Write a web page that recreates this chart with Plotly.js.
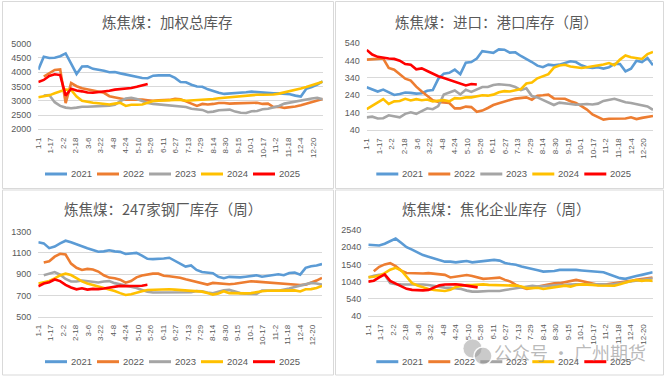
<!DOCTYPE html>
<html>
<head>
<meta charset="utf-8">
<script src="https://cdn.plot.ly/plotly-3.0.1.min.js"></script>
<style>
html,body{margin:0;padding:0;background:#fff;}
#chart{width:666px;height:378px;}
</style>
</head>
<body>
<div id="chart"></div>
<script>
// ---------- data ----------
const years = ['2021', '2022', '2023', '2024', '2025'];
const colors = ['#5B9BD5', '#ED7D31', '#A5A5A5', '#FFC000', '#FF0000'];
const tickLabels = ['1-1','1-17','2-2','2-18','3-6','3-22','4-8','4-24','5-10','5-26','6-11','6-27','7-13','7-29','8-14','8-30','9-15','10-1','10-17','11-2','11-18','12-4','12-20'];
const titles = ['炼焦煤：加权总库存', '炼焦煤：进口：港口库存（周）', '炼焦煤：247家钢厂库存（周）', '炼焦煤：焦化企业库存（周）'];

// 炼焦煤：加权总库存
const total2021 = [4090,4540,4500,4510,4560,4660,4300,3940,4200,4210,4120,4090,4050,4000,4010,3960,3920,3880,3840,3800,3790,3880,3890,3890,3890,3800,3660,3650,3560,3500,3490,3400,3330,3280,3240,3250,3260,3270,3300,3320,3300,3280,3270,3260,3260,3240,3230,3180,3150,3420,3480,3570,3680];
const total2022 = [null,3850,3970,4080,4100,2920,3620,3510,3440,3400,3360,3330,3280,3160,3130,3080,3040,3040,3060,3040,3020,3000,3020,3030,3030,3070,3050,2980,2900,2820,2890,2870,2890,2920,2920,2900,2910,2920,2910,2930,2930,2890,2900,2780,2790,2750,2770,2800,2840,2890,2950,3000,3060];
const total2023 = [null,3180,3200,2950,2820,2760,2740,2760,2790,2790,2800,2800,2810,2830,2860,2990,3080,3100,3060,2990,2920,2890,2870,2850,2820,2810,2800,2780,2720,2690,2680,2600,2620,2670,2690,2690,2620,2580,2570,2630,2640,2700,2720,2770,2820,2900,2940,2960,3000,3040,3080,3100,3050];
const total2024 = [3120,3150,3190,3260,3330,3390,3380,3150,3000,2960,2930,2910,2880,2870,2900,2930,2820,2860,2860,2870,2930,2990,3000,3000,3020,3030,3030,3000,3010,3030,3040,3040,3060,3090,3110,3120,3140,3160,3180,3210,3210,3210,3210,3220,3250,3290,3340,3380,3430,3480,3540,3600,3670];
const total2025 = [3660,3730,3870,3930,3900,3180,3420,3360,3330,3290,3280,3300,3320,3350,3390,3410,3420,3450,3490,3530,3590];

// 炼焦煤：进口：港口库存（周）
const port2021 = [286,275,262,273,256,242,248,256,254,250,252,266,270,335,365,370,388,362,428,432,452,495,490,485,505,503,486,488,467,450,432,411,402,417,413,417,425,436,432,413,402,398,402,394,402,421,421,378,394,440,432,455,413];
const port2022 = [446,446,450,452,398,388,363,336,325,290,262,236,212,202,200,196,165,165,175,172,145,152,167,184,194,205,213,221,226,228,215,238,240,244,222,220,220,206,196,178,158,130,114,100,105,105,103,106,113,103,110,116,121];
const port2023 = [113,117,106,108,125,120,113,133,142,133,150,165,160,178,245,258,268,245,272,260,275,288,288,300,304,300,298,288,270,280,236,228,214,198,184,198,196,190,186,190,190,187,192,208,214,220,210,200,196,188,182,176,156];
const port2024 = [160,180,200,218,190,205,207,220,210,218,212,216,205,210,212,205,224,222,228,228,234,240,238,244,258,264,262,270,276,308,314,338,352,362,400,412,416,406,402,398,402,406,412,418,426,414,446,470,460,456,450,478,490];
const port2025 = [502,475,462,456,452,450,440,420,416,390,395,380,365,350,340,330,320,308,297,305,302];

// 炼焦煤：247家钢厂库存（周）
const mill2021 = [1200,1190,1145,1160,1190,1215,1200,1180,1165,1145,1128,1112,1115,1125,1115,1110,1090,1095,1100,1075,1045,1042,1042,1048,1055,1025,995,972,982,940,920,912,910,875,862,875,872,870,876,884,890,876,884,890,900,890,912,915,896,960,975,982,995];
const mill2022 = [null,1010,1022,1065,1092,1085,1000,960,940,950,945,925,890,868,862,848,820,835,870,888,900,905,905,886,880,876,866,852,838,826,812,802,818,812,808,806,810,820,830,834,830,826,822,818,810,804,800,800,798,802,818,840,865];
const mill2023 = [null,890,905,920,895,855,832,832,840,836,832,822,832,835,816,805,792,780,770,752,735,728,728,730,730,730,732,730,730,742,740,728,720,735,748,752,738,722,716,714,715,745,742,745,745,752,766,780,795,808,818,812,802];
const mill2024 = [812,822,836,860,890,905,892,862,832,812,798,785,772,758,742,722,705,712,728,740,752,755,755,758,758,755,750,748,745,742,736,722,708,718,740,722,720,720,720,722,734,740,744,745,750,752,750,748,738,758,760,770,790];
const mill2025 = [785,812,825,850,835,800,775,758,768,755,762,760,765,775,782,790,788,790,785,792,800];

// 炼焦煤：焦化企业库存（周）
const coke2021 = [2110,2090,2090,2140,2220,2290,2170,2040,1970,1880,1810,1760,1710,1650,1620,1620,1600,1620,1640,1600,1620,1620,1640,1670,1650,1580,1550,1530,1480,1450,1410,1370,1330,1330,1350,1380,1380,1400,1380,1365,1350,1335,1330,1310,1255,1190,1140,1120,1150,1200,1235,1265,1310];
const coke2022 = [null,1340,1470,1540,1575,1490,1360,1290,1280,1270,1275,1285,1268,1255,1235,1160,1185,1215,1230,1205,1160,1120,1130,1140,1155,1090,1040,945,875,830,860,900,940,965,990,995,1020,1060,1090,1060,1025,990,945,945,965,995,1020,1040,1060,1090,1115,1140,1160];
const coke2023 = [1160,1210,1235,1240,1000,965,960,962,945,960,955,940,912,894,866,862,845,825,778,748,748,765,768,766,768,796,825,846,864,890,920,895,910,914,940,942,944,962,962,960,962,965,980,962,945,962,990,1020,1040,1060,1090,1115,1135];
const coke2024 = [1170,1180,1215,1285,1385,1440,1370,1190,995,925,865,825,795,790,766,800,880,915,940,940,960,960,945,940,942,925,940,924,895,850,850,862,825,845,862,892,922,895,942,960,960,945,925,922,920,920,962,1020,1058,1088,1062,1080,1060];
const coke2025 = [1040,1065,1160,1250,1060,990,900,830,800,790,785,800,860,930,955,962,962,945,922,895,872];

const seriesSets = [
  [total2021, total2022, total2023, total2024, total2025],
  [port2021, port2022, port2023, port2024, port2025],
  [mill2021, mill2022, mill2023, mill2024, mill2025],
  [coke2021, coke2022, coke2023, coke2024, coke2025]
];

// ---------- layout geometry ----------
const W = 666, H = 378;
const px = v => v / W;
const py = v => 1 - v / H;

const tickVals = tickLabels.map((_, k) => k * 16 / 7);

const panels = [
  {xd: [38.3, 322.7], yd: [129.3, 43.7], range: [2000, 5000], dtick: 500, tick0: 2000,
   title: [168, 21.7], legend: [45, 174], box: [2.5, 333.5, 1.5, 188.5]},
  {xd: [366.7, 653], yd: [130, 43.3], range: [40, 540], dtick: 100, tick0: 40,
   title: [496, 22], legend: [376.3, 174], box: [335.5, 663.5, 1.5, 188.5]},
  {xd: [38.3, 322], yd: [316.7, 231.7], range: [500, 1300], dtick: 200, tick0: 500,
   title: [163, 208], legend: [45, 361.7], box: [2.5, 333.5, 190, 375]},
  {xd: [368.3, 652.7], yd: [316, 230], range: [40, 2540], dtick: 500, tick0: 40,
   title: [496, 208], legend: [376.3, 361.7], box: [335.5, 663.5, 190, 375]}
];

const tickFont = {family: 'Liberation Sans, Arial, sans-serif', size: 9, color: '#595959'};
const legendFont = {family: 'Liberation Sans, Arial, sans-serif', size: 9.5, color: '#595959'};
const legendStep = 52, legendLine = 22, legendTextGap = 1.5;

const traces = [];
const layout = {
  width: W, height: H,
  margin: {l: 0, r: 0, t: 0, b: 0},
  paper_bgcolor: '#ffffff',
  plot_bgcolor: '#ffffff',
  showlegend: false,
  annotations: [],
  shapes: []
};

panels.forEach((p, pi) => {
  const n = pi + 1;
  const xa = n === 1 ? 'x' : 'x' + n;
  const ya = n === 1 ? 'y' : 'y' + n;

  seriesSets[pi].forEach((vals, si) => {
    traces.push({
      type: 'scatter', mode: 'lines',
      x: vals.map((_, i) => i),
      y: vals,
      name: years[si],
      line: {color: colors[si], width: 2.6},
      xaxis: xa, yaxis: ya,
      connectgaps: false,
      showlegend: false
    });
    // legend key (line + label)
    const lx = p.legend[0] + si * legendStep;
    layout.shapes.push({
      type: 'line', xref: 'paper', yref: 'paper',
      x0: px(lx), x1: px(lx + legendLine), y0: py(p.legend[1]), y1: py(p.legend[1]),
      line: {color: colors[si], width: 3}
    });
    layout.annotations.push({
      xref: 'paper', yref: 'paper',
      x: px(lx + legendLine + legendTextGap), y: py(p.legend[1]),
      xanchor: 'left', yanchor: 'middle', showarrow: false,
      text: years[si], font: legendFont
    });
  });

  layout['xaxis' + (n === 1 ? '' : n)] = {
    domain: [px(p.xd[0]), px(p.xd[1])],
    anchor: ya,
    range: [0, 52],
    tickmode: 'array', tickvals: tickVals, ticktext: tickLabels,
    tickangle: -90,
    tickfont: {family: 'Liberation Sans, Arial, sans-serif', size: 8, color: '#595959'},
    showgrid: false, zeroline: false,
    showline: true, linecolor: '#D9D9D9', linewidth: 1,
    ticks: '', ticklabelstandoff: 4,
    fixedrange: true
  };
  layout['yaxis' + (n === 1 ? '' : n)] = {
    domain: [py(p.yd[0]), py(p.yd[1])],
    anchor: xa,
    range: p.range,
    tick0: p.tick0, dtick: p.dtick,
    tickfont: tickFont,
    showgrid: true, gridcolor: '#D9D9D9', gridwidth: 1,
    zeroline: false, showline: false, ticks: '',
    ticklabelstandoff: 6,
    fixedrange: true
  };
  layout.annotations.push({
    xref: 'paper', yref: 'paper',
    x: px(p.title[0]), y: py(p.title[1]),
    xanchor: 'center', yanchor: 'middle',
    text: titles[pi], showarrow: false,
    font: {family: 'Noto Sans CJK SC, sans-serif', size: 14.5, color: '#595959'}
  });
  layout.shapes.push({
    type: 'rect', xref: 'paper', yref: 'paper',
    x0: px(p.box[0]), x1: px(p.box[1]), y0: py(p.box[3]), y1: py(p.box[2]),
    line: {color: '#D9D9D9', width: 1}, fillcolor: 'rgba(0,0,0,0)', layer: 'below'
  });
});

// watermark
layout.shapes.push({
  type: 'circle', xref: 'paper', yref: 'paper',
  x0: px(463), x1: px(482), y0: py(358), y1: py(339),
  fillcolor: 'rgba(150,150,150,0.5)', line: {color: 'rgba(255,255,255,0.8)', width: 1}
});
layout.shapes.push({
  type: 'circle', xref: 'paper', yref: 'paper',
  x0: px(474), x1: px(492), y0: py(365), y1: py(347),
  fillcolor: 'rgba(150,150,150,0.5)', line: {color: 'rgba(255,255,255,0.9)', width: 1.5}
});
layout.annotations.push({
  xref: 'paper', yref: 'paper', x: px(570), y: py(352),
  xanchor: 'center', yanchor: 'middle', showarrow: false,
  text: '公众号 · 广州期货',
  font: {family: 'Noto Sans CJK SC, sans-serif', size: 18, color: 'rgba(140,140,140,0.6)'}
});

Plotly.newPlot('chart', traces, layout, {displayModeBar: false, staticPlot: true});
</script>
</body>
</html>
